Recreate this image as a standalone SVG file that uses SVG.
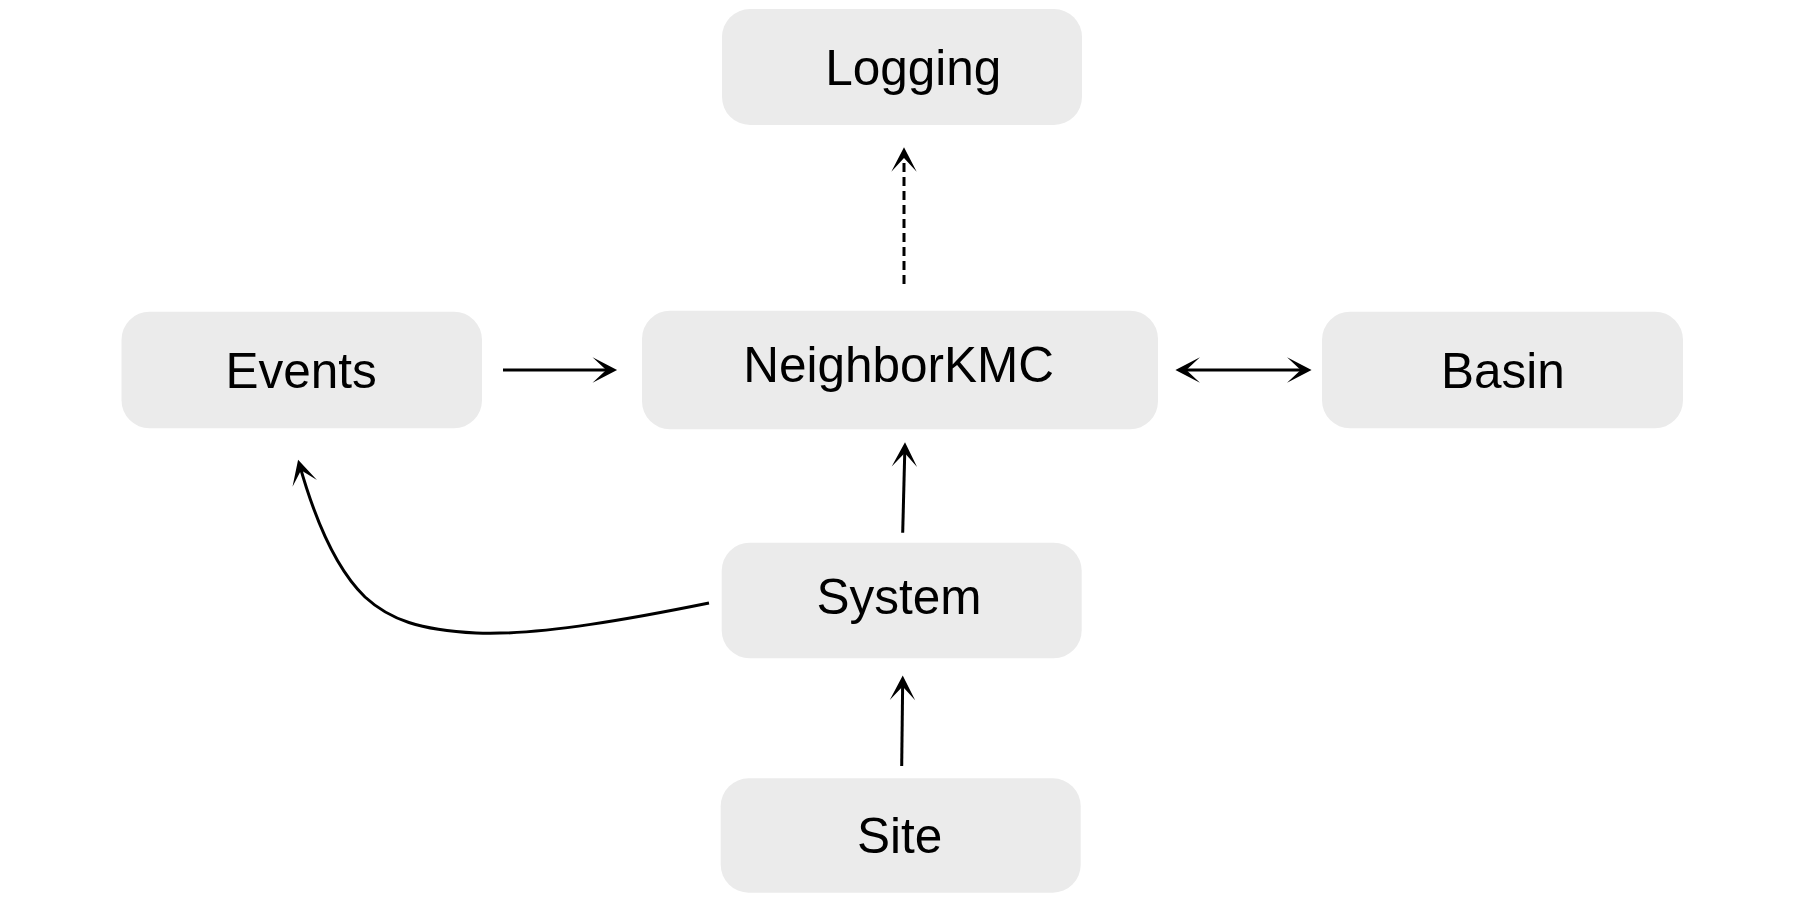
<svg xmlns="http://www.w3.org/2000/svg" width="1800" height="900" viewBox="0 0 1800 900">
<style>
.box{fill:#ebebeb;}
.lbl{font-family:"Liberation Sans",Arial,sans-serif;font-size:49.5px;fill:#000;text-anchor:middle;}
.edge{fill:none;stroke:#000;stroke-width:3;}
.dash{stroke-dasharray:9,5;}
</style>
<defs>
<marker id="ah" markerUnits="userSpaceOnUse" markerWidth="30" markerHeight="30" viewBox="-20 -11 22 22" refX="-3" refY="0" orient="auto-start-reverse">
<path d="M0,0 L-18,-9.3 L-8,0 L-18,9.3 Z" fill="#000"/>
</marker>
</defs>
<rect width="1800" height="900" fill="#fff"/>
<g id="connectors">
<path class="edge" d="M503,370 L613,370" marker-end="url(#ah)"/>
<path class="edge" d="M1179.5,370 L1307.5,370" marker-start="url(#ah)" marker-end="url(#ah)"/>
<path class="edge dash" d="M904,284 L904,151.3" marker-end="url(#ah)"/>
<path class="edge" d="M902.7,532.7 L904.9,446.3" marker-end="url(#ah)"/>
<path class="edge" d="M901.7,766 L902.7,679.7" marker-end="url(#ah)"/>
<path class="edge" d="M709,603 C640,617 540,636 476,633 C420,630 390,620 365,597 C335,568 315,520 299.2,463.6" marker-end="url(#ah)"/>
</g>
<g id="node-logging">
<rect class="box" x="722" y="9" width="360" height="116" rx="28"/>
<text class="lbl" x="913.3" y="85">Logging</text>
</g>
<g id="node-events">
<rect class="box" x="121.5" y="311.7" width="360.5" height="116.6" rx="28"/>
<text class="lbl" x="301.2" y="387.7">Events</text>
</g>
<g id="node-neighborkmc">
<rect class="box" x="642" y="310.7" width="516" height="118.6" rx="28"/>
<text class="lbl" x="898.6" y="382.3">NeighborKMC</text>
</g>
<g id="node-basin">
<rect class="box" x="1322" y="311.7" width="361" height="116.6" rx="28"/>
<text class="lbl" x="1502.8" y="387.7">Basin</text>
</g>
<g id="node-system">
<rect class="box" x="721.7" y="542.7" width="360" height="115.6" rx="28"/>
<text class="lbl" x="899" y="614.3">System</text>
</g>
<g id="node-site">
<rect class="box" x="720.7" y="778.3" width="360" height="114.4" rx="28"/>
<text class="lbl" x="899.6" y="852.7">Site</text>
</g>
</svg>
